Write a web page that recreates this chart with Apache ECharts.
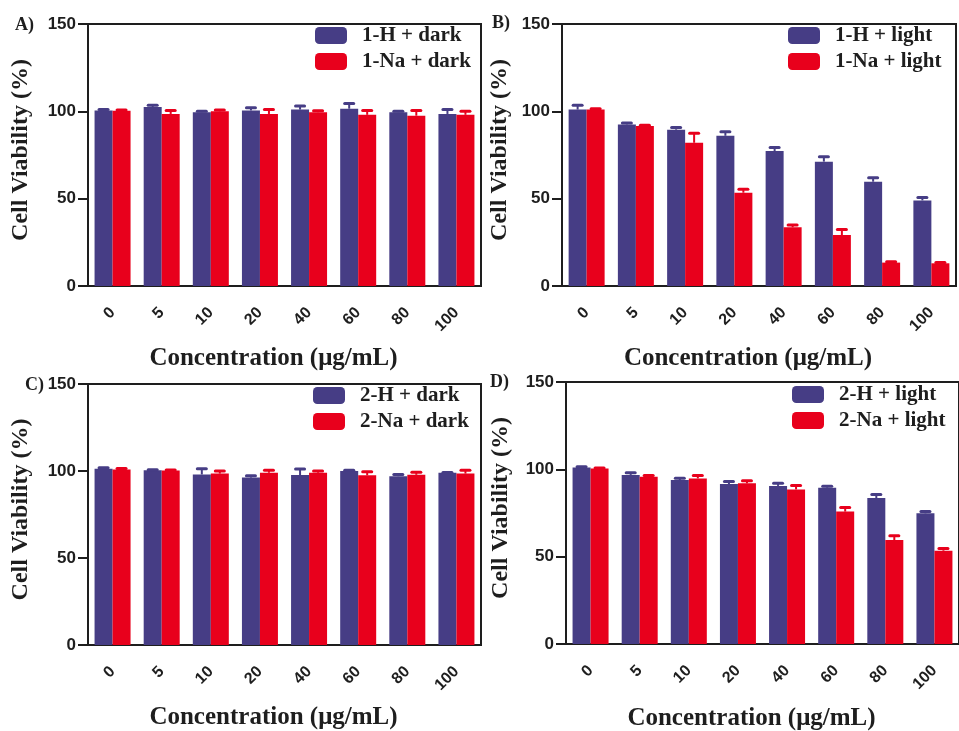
<!DOCTYPE html>
<html>
<head>
<meta charset="utf-8">
<script src="https://cdn.jsdelivr.net/npm/echarts@6/dist/echarts.min.js"></script>
<style>
  html, body { margin: 0; background: #fff; }
  #chart { width: 959px; height: 731px; }
</style>
</head>
<body>
<div id="chart"></div>
<script>
// concentrations (µg/mL) shared by all four panels
const concentrations = ["0", "5", "10", "20", "40", "60", "80", "100"];

// A) compound 1, dark
const h1Dark      = [100.5, 102.5, 99.5, 100.5, 101, 101.5, 99.5, 98.5];
const h1DarkErr   = [0.5, 1, 0.5, 1.5, 2, 3, 0.5, 2.5];
const na1Dark     = [100.3, 98.5, 100, 98.5, 99.5, 98, 97.5, 98];
const na1DarkErr  = [0.4, 2, 0.8, 2.5, 0.8, 2.5, 3, 2];

// B) compound 1, light
const h1Light     = [101, 92.5, 89.5, 86, 77.3, 71.2, 59.7, 49];
const h1LightErr  = [2.5, 0.8, 1.3, 2.3, 2, 2.8, 2.3, 1.7];
const na1Light    = [101, 91.6, 82, 53.4, 33.6, 29.2, 13.4, 13];
const na1LightErr = [0.5, 0.5, 5.4, 2, 1.3, 3.2, 0.5, 0.5];

// C) compound 2, dark
const h2Dark      = [101.3, 100.4, 98, 96.2, 97.7, 100, 97, 99];
const h2DarkErr   = [0.5, 0.3, 3.3, 1, 3.5, 0.4, 1, 0.2];
const na2Dark     = [100.8, 100.3, 98.5, 99, 99, 97.5, 97.8, 98.5];
const na2DarkErr  = [0.7, 0.3, 1.5, 1.5, 1, 2, 1.5, 2];

// D) compound 2, light
const h2Light     = [101, 96.8, 93.9, 91.6, 90.5, 89.5, 83.6, 74.8];
const h2LightErr  = [0.5, 1.3, 1, 1.5, 1.5, 0.8, 2, 1];
const na2Light    = [100.5, 95.8, 94.8, 92, 88.5, 75.8, 59.5, 53.4];
const na2LightErr = [0.3, 0.7, 1.7, 1.5, 2.3, 2.3, 2.5, 1.3];

const BLUE = "#463d85";
const RED = "#e8001c";
const INK = "#1e1e1e";
const SERIF = '"Liberation Serif", "Times New Roman", serif';
const SANS = '"Liberation Sans", Arial, sans-serif';
const BAR_W = 18;

const panels = [
  { tag: "A)", hName: "1-H + dark",  naName: "1-Na + dark",  h: h1Dark,  hErr: h1DarkErr,  na: na1Dark,  naErr: na1DarkErr,
    grid: { left: 88, top: 24, width: 393, height: 262 }, legend: { left: 315, top: 25 }, tagPos: [15, 16], yGap: 55, xGap: 60 },
  { tag: "B)", hName: "1-H + light", naName: "1-Na + light", h: h1Light, hErr: h1LightErr, na: na1Light, naErr: na1LightErr,
    grid: { left: 562, top: 24, width: 394, height: 262 }, legend: { left: 788, top: 25 }, tagPos: [492, 14], yGap: 50, xGap: 60 },
  { tag: "C)", hName: "2-H + dark",  naName: "2-Na + dark",  h: h2Dark,  hErr: h2DarkErr,  na: na2Dark,  naErr: na2DarkErr,
    grid: { left: 88, top: 384, width: 393, height: 261 }, legend: { left: 313, top: 385 }, tagPos: [25, 376], yGap: 55, xGap: 60 },
  { tag: "D)", hName: "2-H + light", naName: "2-Na + light", h: h2Light, hErr: h2LightErr, na: na2Light, naErr: na2LightErr,
    grid: { left: 566, top: 382, width: 393, height: 262 }, legend: { left: 792, top: 384 }, tagPos: [490, 373], yGap: 53, xGap: 62 },
];

// mean + SD whisker with a short cap, drawn over the bar at the given offset
function errorBar(offset, color) {
  return function (params, api) {
    const k = api.value(0), m = api.value(1), e = api.value(2);
    const base = api.coord([k, m]);
    const top = api.coord([k, m + e]);
    const cx = base[0] + offset;
    return {
      type: "group",
      children: [
        { type: "line", shape: { x1: cx, y1: base[1], x2: cx, y2: top[1] }, style: { stroke: color, lineWidth: 2 } },
        { type: "rect", shape: { x: cx - 6, y: top[1] - 1.5, width: 12, height: 3, r: 1.5 }, style: { fill: color } },
      ],
    };
  };
}

const grids = [], xAxes = [], yAxes = [], legends = [], series = [], graphics = [];

panels.forEach((p, i) => {
  grids.push({ ...p.grid, show: true, borderColor: INK, borderWidth: 2, outerBoundsMode: "none" });

  xAxes.push({
    type: "category",
    gridIndex: i,
    data: concentrations,
    axisLine: { lineStyle: { color: INK, width: 2 } },
    axisTick: { alignWithLabel: true, length: 7, lineStyle: { color: INK, width: 2 } },
    axisLabel: { rotate: 45, margin: 24, color: INK, fontFamily: SANS, fontWeight: "bold", fontSize: 16 },
    name: "Concentration (\u03bcg/mL)",
    nameLocation: "middle",
    nameGap: p.xGap,
    nameTextStyle: { color: INK, fontFamily: SERIF, fontWeight: "bold", fontSize: 25, padding: [0, 22, 0, 0] },
  });

  yAxes.push({
    type: "value",
    gridIndex: i,
    min: 0,
    max: 150,
    interval: 50,
    splitLine: { show: false },
    axisLine: { show: true, lineStyle: { color: INK, width: 2 } },
    axisTick: { show: true, length: 10, lineStyle: { color: INK, width: 2 } },
    axisLabel: { margin: 12, color: INK, fontFamily: SANS, fontWeight: "bold", fontSize: 17 },
    name: "Cell Viability (%)",
    nameLocation: "middle",
    nameGap: p.yGap,
    nameTextStyle: { color: INK, fontFamily: SERIF, fontWeight: "bold", fontSize: 24, padding: [0, 0, 0, 10] },
  });

  legends.push({
    data: [p.hName, p.naName],
    left: p.legend.left,
    top: p.legend.top,
    padding: 0,
    orient: "vertical",
    icon: "roundRect",
    itemWidth: 32,
    itemHeight: 17,
    itemGap: 5,
    textStyle: { color: INK, fontFamily: SERIF, fontWeight: "bold", fontSize: 21, lineHeight: 17, padding: [0, 0, 0, 10] },
  });

  series.push(
    { name: p.hName, type: "bar", xAxisIndex: i, yAxisIndex: i, data: p.h, barWidth: BAR_W, barGap: "0%",
      itemStyle: { color: BLUE }, animation: false },
    { name: p.naName, type: "bar", xAxisIndex: i, yAxisIndex: i, data: p.na, barWidth: BAR_W, barGap: "0%",
      itemStyle: { color: RED }, animation: false },
    { type: "custom", xAxisIndex: i, yAxisIndex: i, z: 3, animation: false,
      data: p.h.map((v, k) => [k, v, p.hErr[k]]), encode: { x: 0, y: 1 },
      renderItem: errorBar(-BAR_W / 2, BLUE) },
    { type: "custom", xAxisIndex: i, yAxisIndex: i, z: 3, animation: false,
      data: p.na.map((v, k) => [k, v, p.naErr[k]]), encode: { x: 0, y: 1 },
      renderItem: errorBar(BAR_W / 2, RED) }
  );

  graphics.push({
    type: "text",
    left: p.tagPos[0],
    top: p.tagPos[1],
    style: { text: p.tag, fill: INK, font: 'bold 18px ' + SERIF },
  });
});

const chart = echarts.init(document.getElementById("chart"));
chart.setOption({
  animation: false,
  backgroundColor: "#fff",
  grid: grids,
  xAxis: xAxes,
  yAxis: yAxes,
  legend: legends,
  series: series,
  graphic: graphics,
  tooltip: { show: false },
});
</script>
</body>
</html>
